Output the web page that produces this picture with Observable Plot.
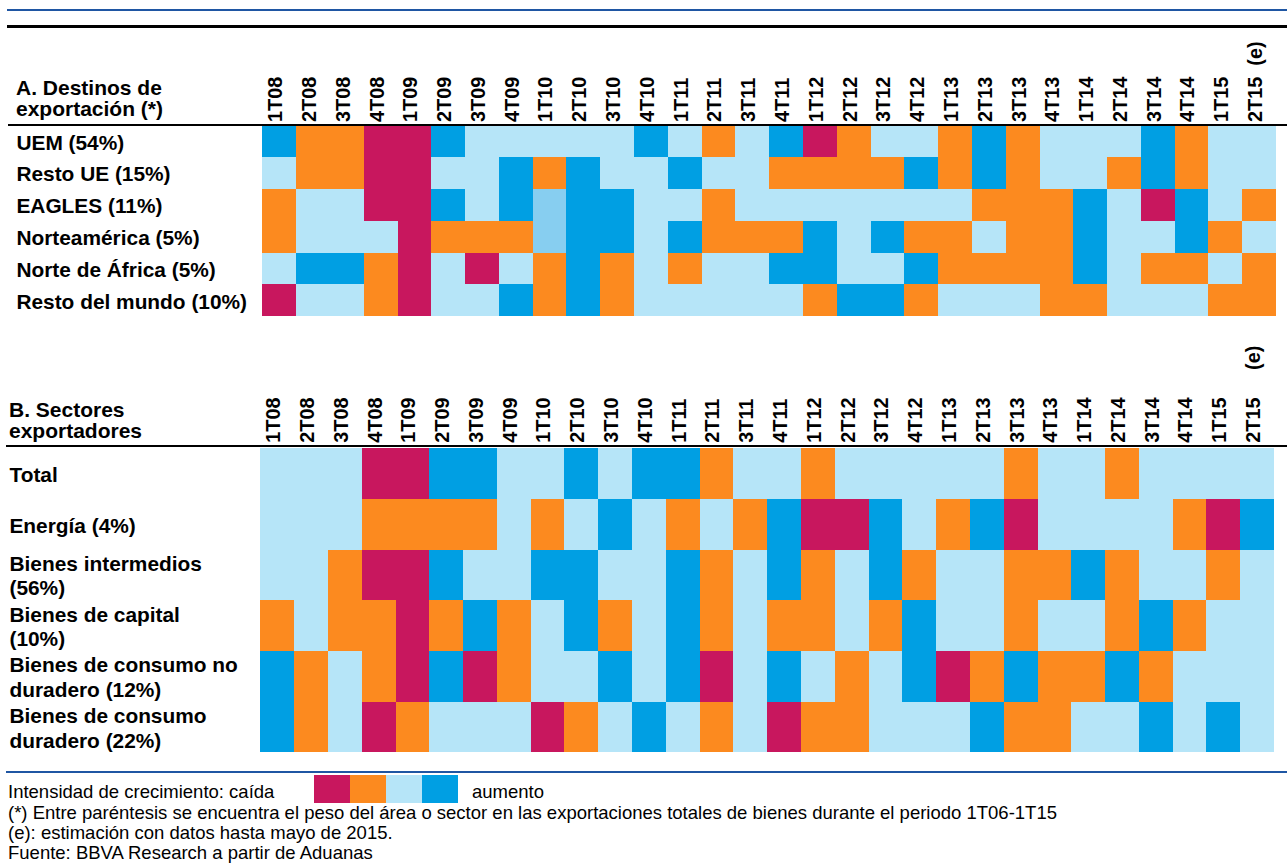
<!DOCTYPE html>
<html>
<head>
<meta charset="utf-8">
<script src="https://cdn.jsdelivr.net/npm/d3@7"></script>
<script src="https://cdn.jsdelivr.net/npm/@observablehq/plot@0.6"></script>
<style>
  html, body { margin: 0; padding: 0; background: #fff; overflow: hidden; }
  #wrap { position: relative; width: 1287px; height: 864px; overflow: hidden; font-family: "Liberation Sans", Arial, sans-serif; color: #000; }
  .abs { position: absolute; }
  .hline { position: absolute; left: 7px; width: 1290px; }
  .head { position: absolute; font-weight: bold; font-size: 21px; line-height: 21px; white-space: nowrap; }
  .note { position: absolute; left: 8px; font-size: 18.5px; line-height: 20px; white-space: nowrap; }
  .sw { position: absolute; width: 36px; height: 28px; }
</style>
</head>
<body>
<div id="wrap"></div>
<script>
// ---- Data ----
const cols = ["1T08","2T08","3T08","4T08","1T09","2T09","3T09","4T09","1T10","2T10","3T10","4T10",
              "1T11","2T11","3T11","4T11","1T12","2T12","3T12","4T12","1T13","2T13","3T13","4T13",
              "1T14","2T14","3T14","4T14","1T15","2T15 (e)"];

// growth intensity codes: 1 = caída fuerte, 2 = caída, 3 = aumento moderado, 5 = aumento (tono intermedio), 4 = aumento fuerte
const codes  = [1, 2, 3, 5, 4];
const colors = ["#C8175E", "#FC8A1F", "#B6E5F8", "#87CEF0", "#009FE3"];
const legendCodes = [1, 2, 3, 4];

const rowsA = ["UEM (54%)", "Resto UE (15%)", "EAGLES (11%)", "Norteamérica (5%)", "Norte de África (5%)", "Resto del mundo (10%)"];
const uem        = [4,2,2,1,1,4,3,3,3,3,3,4,3,2,3,4,1,2,3,3,2,4,2,3,3,3,4,2,3,3];
const restoUE    = [3,2,2,1,1,3,3,4,2,4,3,3,4,3,3,2,2,2,2,4,2,4,2,3,3,2,4,2,3,3];
const eagles     = [2,3,3,1,1,4,3,4,5,4,4,3,3,2,3,3,3,3,3,3,3,2,2,2,4,3,1,4,3,2];
const norteam    = [2,3,3,3,1,2,2,2,5,4,4,3,4,2,2,2,4,3,4,2,2,3,2,2,4,3,3,4,2,3];
const nAfrica    = [3,4,4,2,1,3,1,3,2,4,2,3,2,3,3,4,4,3,3,4,2,2,2,2,4,3,2,2,3,2];
const restoMundo = [1,3,3,2,1,3,3,4,2,4,2,3,3,3,3,3,2,4,4,2,3,3,3,2,2,3,3,3,2,2];

const rowsB = ["Total", "Energía (4%)", "Bienes intermedios\n(56%)", "Bienes de capital\n(10%)",
               "Bienes de consumo no\nduradero (12%)", "Bienes de consumo\nduradero (22%)"];
const total       = [3,3,3,1,1,4,4,3,3,4,3,4,4,2,3,3,2,3,3,3,3,3,2,3,3,2,3,3,3,3];
const energia     = [3,3,3,2,2,2,2,3,2,3,4,3,2,3,2,4,1,1,4,3,2,4,1,3,3,3,3,2,1,4];
const intermedios = [3,3,2,1,1,4,3,3,4,4,3,3,4,2,3,4,2,3,4,2,3,3,2,2,4,2,3,3,2,3];
const capital     = [2,3,2,2,1,2,4,2,3,4,2,3,4,2,3,2,2,3,2,4,3,3,2,3,3,2,4,2,3,3];
const noDuradero  = [4,2,3,2,1,4,1,2,3,3,4,3,4,1,3,4,3,2,3,4,1,2,4,2,2,4,2,3,3,3];
const duradero    = [4,2,3,1,2,3,3,3,1,2,3,4,3,2,3,1,2,2,3,3,3,4,2,2,3,3,4,3,4,3];

const headA = ["A. Destinos de", "exportación (*)"];
const headB = ["B. Sectores", "exportadores"];
const legendLeft = "Intensidad de crecimiento: caída";
const legendRight = "aumento";
const notes = [
  "(*) Entre paréntesis se encuentra el peso del área o sector en las exportaciones totales de bienes durante el periodo 1T06-1T15",
  "(e): estimación con datos hasta mayo de 2015.",
  "Fuente: BBVA Research a partir de Aduanas"
];

// ---- Build ----
const wrap = document.getElementById("wrap");
function el(cls, css, html) {
  const d = document.createElement("div");
  d.className = cls;
  Object.assign(d.style, css);
  if (html != null) d.innerHTML = html;
  wrap.appendChild(d);
  return d;
}

function panel(rows, series, {marginLeft, marginTop, height, labelX, lineHeight, gap}) {
  const cells = [];
  rows.forEach((r, i) => series[i].forEach((v, j) => cells.push({row: r, col: cols[j], v})));
  const colText = d => d.replace(" (e)", "\u00a0".repeat(gap) + "(e)");
  return Plot.plot({
    width: 1295, height, marginLeft, marginRight: 0, marginTop, marginBottom: 0,
    x: {domain: cols, padding: 0, axis: null},
    y: {domain: rows, padding: 0, axis: null},
    color: {type: "ordinal", domain: codes, range: colors},
    style: {fontFamily: "'Liberation Sans', Arial, sans-serif", color: "#000", background: "transparent", overflow: "visible"},
    marks: [
      Plot.cell(cells, {x: "col", y: "row", fill: "v", shapeRendering: "crispEdges"}),
      Plot.text(cols, {x: d => d, text: colText, frameAnchor: "top", rotate: -90, textAnchor: "start", lineAnchor: "middle",
                       dy: -4, dx: -4, fontSize: 20, fontWeight: "bold", fill: "#000"}),
      Plot.text(rows, {y: d => d, text: d => d, frameAnchor: "left", textAnchor: "start", dx: labelX - marginLeft,
                       fontSize: 21, fontWeight: "bold", fill: "#000", lineHeight})
    ]
  });
}

// top rules
el("hline", {top: "9px", height: "2px", background: "#1F56A3"});
el("hline", {top: "25px", height: "3px", background: "#000"});

// Panel A
const svgA = panel(rowsA, [uem, restoUE, eagles, norteam, nAfrica, restoMundo],
  {marginLeft: 253.5, marginTop: 96, height: 288, labelX: 16, lineHeight: 1.17, gap: 2});
const pa = el("abs", {top: "30px", left: "0px"});
pa.appendChild(svgA);
el("hline", {top: "124px", left: "8px", height: "2px", background: "#000"});
el("head", {top: "77px", left: "16px"}, headA.join("<br>"));

// Panel B
const svgB = panel(rowsB, [total, energia, intermedios, capital, noDuradero, duradero],
  {marginLeft: 249, marginTop: 117, height: 427, labelX: 9, lineHeight: 1.17, gap: 5});
const pb = el("abs", {top: "330px", left: "0px"});
pb.appendChild(svgB);
el("hline", {top: "445px", left: "6px", height: "2px", background: "#000"});
el("head", {top: "399px", left: "9px"}, headB.join("<br>"));

// bottom rule + legend + notes
el("hline", {top: "771px", left: "6px", height: "2px", background: "#1F56A3"});
el("note", {top: "782px"}, legendLeft);
legendCodes.forEach((c, i) => {
  el("sw", {top: "775px", left: (314 + i * 36) + "px", background: colors[codes.indexOf(c)]});
});
el("note", {top: "782px", left: "472px"}, legendRight);
notes.forEach((t, i) => el("note", {top: (803 + i * 20.2) + "px"}, t));
</script>
</body>
</html>
